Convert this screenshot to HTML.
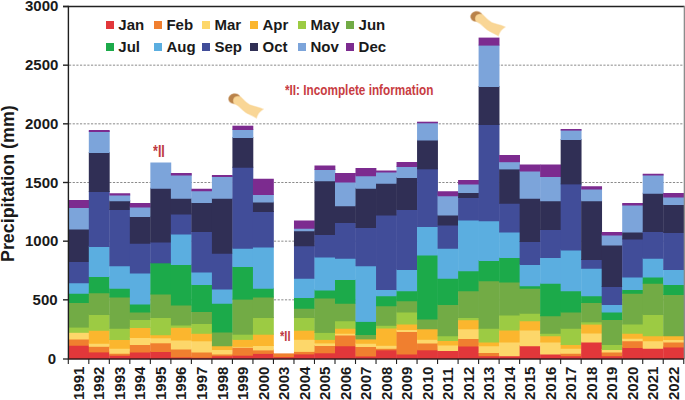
<!DOCTYPE html>
<html><head><meta charset="utf-8"><style>
html,body{margin:0;padding:0;background:#fff;}
body{width:685px;height:400px;position:relative;overflow:hidden;font-family:"Liberation Sans",sans-serif;}
svg{position:absolute;left:0;top:0;}
.yl{position:absolute;right:626.6px;font-weight:bold;font-size:15px;line-height:18px;color:#1a1a1a;text-align:right;}
.xl{position:absolute;top:400.3px;width:40px;height:20px;margin-left:-10px;transform:rotate(-90deg);transform-origin:0 0;font-weight:bold;font-size:15px;line-height:20px;color:#1a1a1a;text-align:left;white-space:nowrap;}
.sw{position:absolute;width:8.2px;height:7.8px;}
.lt{position:absolute;font-weight:bold;font-size:15px;line-height:16px;color:#1a1a1a;white-space:nowrap;}
.yt{position:absolute;font-weight:bold;font-size:17.5px;line-height:20px;color:#1a1a1a;white-space:nowrap;transform:rotate(-90deg) scaleX(1.02);transform-origin:0 0;}
.note{position:absolute;color:#C83C42;font-weight:bold;font-size:14px;line-height:16px;white-space:nowrap;transform:scaleX(0.84);transform-origin:0 0;}
#w{position:absolute;left:0;top:0;width:685px;height:400px;background:#fff;}
</style></head><body><div id="w">
<svg width="685" height="400" viewBox="0 0 685 400">
<defs><filter id="bl" x="-20%" y="-20%" width="140%" height="140%"><feGaussianBlur stdDeviation="0.8"/></filter></defs>
<line x1="69" y1="299.83" x2="683" y2="299.83" stroke="#8a8a8a" stroke-width="1" stroke-dasharray="2.2,1.46"/>
<line x1="69" y1="241.17" x2="683" y2="241.17" stroke="#8a8a8a" stroke-width="1" stroke-dasharray="2.2,1.46"/>
<line x1="69" y1="182.50" x2="683" y2="182.50" stroke="#8a8a8a" stroke-width="1" stroke-dasharray="2.2,1.46"/>
<line x1="69" y1="123.83" x2="683" y2="123.83" stroke="#8a8a8a" stroke-width="1" stroke-dasharray="2.2,1.46"/>
<line x1="69" y1="65.17" x2="683" y2="65.17" stroke="#8a8a8a" stroke-width="1" stroke-dasharray="2.2,1.46"/>
<rect x="68.30" y="344.75" width="20.87" height="14.25" fill="#E2373A"/>
<rect x="68.30" y="338.50" width="20.87" height="7.25" fill="#F07F2F"/>
<rect x="68.30" y="331.80" width="20.87" height="7.70" fill="#FDD76A"/>
<rect x="68.30" y="326.60" width="20.87" height="6.20" fill="#9CCB43"/>
<rect x="68.30" y="302.00" width="20.87" height="25.60" fill="#72AB45"/>
<rect x="68.30" y="292.75" width="20.87" height="10.25" fill="#1CAA4A"/>
<rect x="68.30" y="282.25" width="20.87" height="11.50" fill="#5BAEE0"/>
<rect x="68.30" y="261.00" width="20.87" height="22.25" fill="#414D99"/>
<rect x="68.30" y="228.50" width="20.87" height="33.50" fill="#302F55"/>
<rect x="68.30" y="207.00" width="20.87" height="22.50" fill="#7CA4DA"/>
<rect x="68.30" y="200.00" width="20.87" height="8.00" fill="#7C2B8F"/>
<rect x="88.81" y="351.40" width="20.87" height="7.60" fill="#E2373A"/>
<rect x="88.81" y="345.80" width="20.87" height="6.60" fill="#F07F2F"/>
<rect x="88.81" y="342.75" width="20.87" height="4.05" fill="#FDD76A"/>
<rect x="88.81" y="329.75" width="20.87" height="14.00" fill="#FBB62E"/>
<rect x="88.81" y="314.00" width="20.87" height="16.75" fill="#9CCB43"/>
<rect x="88.81" y="292.25" width="20.87" height="22.75" fill="#72AB45"/>
<rect x="88.81" y="276.00" width="20.87" height="17.25" fill="#1CAA4A"/>
<rect x="88.81" y="246.00" width="20.87" height="31.00" fill="#5BAEE0"/>
<rect x="88.81" y="191.00" width="20.87" height="56.00" fill="#414D99"/>
<rect x="88.81" y="152.00" width="20.87" height="40.00" fill="#302F55"/>
<rect x="88.81" y="131.00" width="20.87" height="22.00" fill="#7CA4DA"/>
<rect x="88.81" y="130.00" width="20.87" height="2.00" fill="#7C2B8F"/>
<rect x="109.33" y="354.75" width="20.87" height="4.25" fill="#E2373A"/>
<rect x="109.33" y="352.75" width="20.87" height="3.00" fill="#F07F2F"/>
<rect x="109.33" y="347.75" width="20.87" height="6.00" fill="#FDD76A"/>
<rect x="109.33" y="339.00" width="20.87" height="9.75" fill="#FBB62E"/>
<rect x="109.33" y="327.75" width="20.87" height="12.25" fill="#9CCB43"/>
<rect x="109.33" y="296.50" width="20.87" height="32.25" fill="#72AB45"/>
<rect x="109.33" y="287.75" width="20.87" height="9.75" fill="#1CAA4A"/>
<rect x="109.33" y="265.25" width="20.87" height="23.50" fill="#5BAEE0"/>
<rect x="109.33" y="209.00" width="20.87" height="57.25" fill="#414D99"/>
<rect x="109.33" y="200.25" width="20.87" height="9.75" fill="#302F55"/>
<rect x="109.33" y="194.50" width="20.87" height="6.75" fill="#7CA4DA"/>
<rect x="109.33" y="193.25" width="20.87" height="2.25" fill="#7C2B8F"/>
<rect x="129.84" y="351.50" width="20.87" height="7.50" fill="#E2373A"/>
<rect x="129.84" y="344.00" width="20.87" height="8.50" fill="#F07F2F"/>
<rect x="129.84" y="337.00" width="20.87" height="8.00" fill="#FDD76A"/>
<rect x="129.84" y="327.00" width="20.87" height="11.00" fill="#FBB62E"/>
<rect x="129.84" y="319.00" width="20.87" height="9.00" fill="#9CCB43"/>
<rect x="129.84" y="311.50" width="20.87" height="8.50" fill="#72AB45"/>
<rect x="129.84" y="303.50" width="20.87" height="9.00" fill="#1CAA4A"/>
<rect x="129.84" y="272.50" width="20.87" height="32.00" fill="#5BAEE0"/>
<rect x="129.84" y="242.75" width="20.87" height="30.75" fill="#414D99"/>
<rect x="129.84" y="216.00" width="20.87" height="27.75" fill="#302F55"/>
<rect x="129.84" y="206.50" width="20.87" height="10.50" fill="#7CA4DA"/>
<rect x="129.84" y="203.00" width="20.87" height="4.50" fill="#7C2B8F"/>
<rect x="150.36" y="351.00" width="20.87" height="8.00" fill="#E2373A"/>
<rect x="150.36" y="342.30" width="20.87" height="9.70" fill="#F07F2F"/>
<rect x="150.36" y="337.30" width="20.87" height="6.00" fill="#FDD76A"/>
<rect x="150.36" y="334.20" width="20.87" height="4.10" fill="#FBB62E"/>
<rect x="150.36" y="317.00" width="20.87" height="18.20" fill="#9CCB43"/>
<rect x="150.36" y="293.50" width="20.87" height="24.50" fill="#72AB45"/>
<rect x="150.36" y="262.30" width="20.87" height="32.20" fill="#1CAA4A"/>
<rect x="150.36" y="241.50" width="20.87" height="21.80" fill="#414D99"/>
<rect x="150.36" y="187.75" width="20.87" height="54.75" fill="#302F55"/>
<rect x="150.36" y="162.50" width="20.87" height="26.25" fill="#7CA4DA"/>
<rect x="170.88" y="356.50" width="20.87" height="2.50" fill="#E2373A"/>
<rect x="170.88" y="348.50" width="20.87" height="9.00" fill="#F07F2F"/>
<rect x="170.88" y="339.50" width="20.87" height="10.00" fill="#FDD76A"/>
<rect x="170.88" y="326.80" width="20.87" height="13.70" fill="#FBB62E"/>
<rect x="170.88" y="324.50" width="20.87" height="3.30" fill="#9CCB43"/>
<rect x="170.88" y="304.50" width="20.87" height="21.00" fill="#72AB45"/>
<rect x="170.88" y="264.00" width="20.87" height="41.50" fill="#1CAA4A"/>
<rect x="170.88" y="233.50" width="20.87" height="31.50" fill="#5BAEE0"/>
<rect x="170.88" y="213.50" width="20.87" height="21.00" fill="#414D99"/>
<rect x="170.88" y="197.75" width="20.87" height="16.75" fill="#302F55"/>
<rect x="170.88" y="174.50" width="20.87" height="24.25" fill="#7CA4DA"/>
<rect x="170.88" y="173.00" width="20.87" height="2.50" fill="#7C2B8F"/>
<rect x="191.39" y="356.80" width="20.87" height="2.20" fill="#E2373A"/>
<rect x="191.39" y="351.50" width="20.87" height="6.30" fill="#F07F2F"/>
<rect x="191.39" y="340.30" width="20.87" height="12.20" fill="#FDD76A"/>
<rect x="191.39" y="332.80" width="20.87" height="8.50" fill="#FBB62E"/>
<rect x="191.39" y="323.00" width="20.87" height="10.80" fill="#9CCB43"/>
<rect x="191.39" y="311.00" width="20.87" height="13.00" fill="#72AB45"/>
<rect x="191.39" y="284.00" width="20.87" height="28.00" fill="#1CAA4A"/>
<rect x="191.39" y="271.50" width="20.87" height="13.50" fill="#5BAEE0"/>
<rect x="191.39" y="231.00" width="20.87" height="41.50" fill="#414D99"/>
<rect x="191.39" y="202.00" width="20.87" height="30.00" fill="#302F55"/>
<rect x="191.39" y="190.25" width="20.87" height="12.75" fill="#7CA4DA"/>
<rect x="191.39" y="188.75" width="20.87" height="2.50" fill="#7C2B8F"/>
<rect x="211.91" y="355.25" width="20.87" height="3.75" fill="#E2373A"/>
<rect x="211.91" y="353.50" width="20.87" height="2.75" fill="#F07F2F"/>
<rect x="211.91" y="349.00" width="20.87" height="5.50" fill="#FDD76A"/>
<rect x="211.91" y="345.25" width="20.87" height="4.75" fill="#FBB62E"/>
<rect x="211.91" y="331.50" width="20.87" height="14.75" fill="#72AB45"/>
<rect x="211.91" y="302.75" width="20.87" height="29.75" fill="#1CAA4A"/>
<rect x="211.91" y="288.50" width="20.87" height="15.25" fill="#5BAEE0"/>
<rect x="211.91" y="252.75" width="20.87" height="36.75" fill="#414D99"/>
<rect x="211.91" y="197.75" width="20.87" height="56.00" fill="#302F55"/>
<rect x="211.91" y="176.00" width="20.87" height="22.75" fill="#7CA4DA"/>
<rect x="211.91" y="175.00" width="20.87" height="2.00" fill="#7C2B8F"/>
<rect x="232.42" y="354.70" width="20.87" height="4.30" fill="#E2373A"/>
<rect x="232.42" y="346.80" width="20.87" height="8.90" fill="#F07F2F"/>
<rect x="232.42" y="345.90" width="20.87" height="1.90" fill="#FDD76A"/>
<rect x="232.42" y="338.90" width="20.87" height="8.00" fill="#FBB62E"/>
<rect x="232.42" y="333.70" width="20.87" height="6.20" fill="#9CCB43"/>
<rect x="232.42" y="298.60" width="20.87" height="36.10" fill="#72AB45"/>
<rect x="232.42" y="266.00" width="20.87" height="33.60" fill="#1CAA4A"/>
<rect x="232.42" y="247.75" width="20.87" height="19.25" fill="#5BAEE0"/>
<rect x="232.42" y="166.75" width="20.87" height="82.00" fill="#414D99"/>
<rect x="232.42" y="137.00" width="20.87" height="30.75" fill="#302F55"/>
<rect x="232.42" y="129.00" width="20.87" height="9.00" fill="#7CA4DA"/>
<rect x="232.42" y="125.70" width="20.87" height="4.30" fill="#7C2B8F"/>
<rect x="252.94" y="352.90" width="20.87" height="6.10" fill="#E2373A"/>
<rect x="252.94" y="349.40" width="20.87" height="4.50" fill="#F07F2F"/>
<rect x="252.94" y="345.00" width="20.87" height="5.40" fill="#FDD76A"/>
<rect x="252.94" y="333.70" width="20.87" height="12.30" fill="#FBB62E"/>
<rect x="252.94" y="317.00" width="20.87" height="17.70" fill="#9CCB43"/>
<rect x="252.94" y="296.50" width="20.87" height="21.50" fill="#72AB45"/>
<rect x="252.94" y="287.75" width="20.87" height="9.75" fill="#1CAA4A"/>
<rect x="252.94" y="246.50" width="20.87" height="42.25" fill="#5BAEE0"/>
<rect x="252.94" y="211.00" width="20.87" height="36.50" fill="#414D99"/>
<rect x="252.94" y="201.50" width="20.87" height="10.50" fill="#302F55"/>
<rect x="252.94" y="194.00" width="20.87" height="8.50" fill="#7CA4DA"/>
<rect x="252.94" y="178.75" width="20.87" height="16.25" fill="#7C2B8F"/>
<rect x="273.45" y="356.20" width="20.87" height="2.80" fill="#E2373A"/>
<rect x="273.45" y="353.40" width="20.87" height="3.80" fill="#F07F2F"/>
<rect x="293.97" y="353.40" width="20.87" height="5.60" fill="#E2373A"/>
<rect x="293.97" y="350.90" width="20.87" height="3.50" fill="#F07F2F"/>
<rect x="293.97" y="338.80" width="20.87" height="13.10" fill="#FDD76A"/>
<rect x="293.97" y="329.70" width="20.87" height="10.10" fill="#FBB62E"/>
<rect x="293.97" y="317.00" width="20.87" height="13.70" fill="#9CCB43"/>
<rect x="293.97" y="307.75" width="20.87" height="10.25" fill="#72AB45"/>
<rect x="293.97" y="297.00" width="20.87" height="11.75" fill="#1CAA4A"/>
<rect x="293.97" y="277.75" width="20.87" height="20.25" fill="#5BAEE0"/>
<rect x="293.97" y="245.25" width="20.87" height="33.50" fill="#414D99"/>
<rect x="293.97" y="230.25" width="20.87" height="16.00" fill="#302F55"/>
<rect x="293.97" y="227.75" width="20.87" height="3.50" fill="#7CA4DA"/>
<rect x="293.97" y="220.50" width="20.87" height="8.25" fill="#7C2B8F"/>
<rect x="314.48" y="352.30" width="20.87" height="6.70" fill="#E2373A"/>
<rect x="314.48" y="345.00" width="20.87" height="8.30" fill="#F07F2F"/>
<rect x="314.48" y="342.40" width="20.87" height="3.60" fill="#FDD76A"/>
<rect x="314.48" y="338.90" width="20.87" height="4.50" fill="#FBB62E"/>
<rect x="314.48" y="331.90" width="20.87" height="8.00" fill="#9CCB43"/>
<rect x="314.48" y="297.50" width="20.87" height="35.40" fill="#72AB45"/>
<rect x="314.48" y="289.50" width="20.87" height="9.00" fill="#1CAA4A"/>
<rect x="314.48" y="256.50" width="20.87" height="34.00" fill="#5BAEE0"/>
<rect x="314.48" y="234.00" width="20.87" height="23.50" fill="#414D99"/>
<rect x="314.48" y="180.25" width="20.87" height="54.75" fill="#302F55"/>
<rect x="314.48" y="169.00" width="20.87" height="12.25" fill="#7CA4DA"/>
<rect x="314.48" y="165.50" width="20.87" height="4.50" fill="#7C2B8F"/>
<rect x="335.00" y="345.25" width="20.87" height="13.75" fill="#E2373A"/>
<rect x="335.00" y="334.50" width="20.87" height="11.75" fill="#F07F2F"/>
<rect x="335.00" y="332.75" width="20.87" height="2.75" fill="#FDD76A"/>
<rect x="335.00" y="327.75" width="20.87" height="6.00" fill="#FBB62E"/>
<rect x="335.00" y="320.25" width="20.87" height="8.50" fill="#9CCB43"/>
<rect x="335.00" y="302.75" width="20.87" height="18.50" fill="#72AB45"/>
<rect x="335.00" y="279.00" width="20.87" height="24.75" fill="#1CAA4A"/>
<rect x="335.00" y="257.75" width="20.87" height="22.25" fill="#5BAEE0"/>
<rect x="335.00" y="222.00" width="20.87" height="36.75" fill="#414D99"/>
<rect x="335.00" y="205.25" width="20.87" height="17.75" fill="#302F55"/>
<rect x="335.00" y="181.50" width="20.87" height="24.75" fill="#7CA4DA"/>
<rect x="335.00" y="173.00" width="20.87" height="9.50" fill="#7C2B8F"/>
<rect x="355.51" y="355.50" width="20.87" height="3.50" fill="#E2373A"/>
<rect x="355.51" y="346.00" width="20.87" height="10.50" fill="#F07F2F"/>
<rect x="355.51" y="342.75" width="20.87" height="4.25" fill="#FDD76A"/>
<rect x="355.51" y="338.40" width="20.87" height="5.35" fill="#FBB62E"/>
<rect x="355.51" y="334.00" width="20.87" height="5.40" fill="#72AB45"/>
<rect x="355.51" y="320.90" width="20.87" height="14.10" fill="#1CAA4A"/>
<rect x="355.51" y="265.25" width="20.87" height="56.65" fill="#5BAEE0"/>
<rect x="355.51" y="227.00" width="20.87" height="39.25" fill="#414D99"/>
<rect x="355.51" y="187.75" width="20.87" height="40.25" fill="#302F55"/>
<rect x="355.51" y="175.25" width="20.87" height="13.50" fill="#7CA4DA"/>
<rect x="355.51" y="168.00" width="20.87" height="8.25" fill="#7C2B8F"/>
<rect x="376.03" y="349.30" width="20.87" height="9.70" fill="#E2373A"/>
<rect x="376.03" y="347.80" width="20.87" height="2.50" fill="#F07F2F"/>
<rect x="376.03" y="344.80" width="20.87" height="4.00" fill="#FDD76A"/>
<rect x="376.03" y="327.50" width="20.87" height="18.30" fill="#FBB62E"/>
<rect x="376.03" y="324.80" width="20.87" height="3.70" fill="#9CCB43"/>
<rect x="376.03" y="305.25" width="20.87" height="20.55" fill="#72AB45"/>
<rect x="376.03" y="295.25" width="20.87" height="11.00" fill="#1CAA4A"/>
<rect x="376.03" y="289.00" width="20.87" height="7.25" fill="#5BAEE0"/>
<rect x="376.03" y="214.50" width="20.87" height="75.50" fill="#414D99"/>
<rect x="376.03" y="182.75" width="20.87" height="32.75" fill="#302F55"/>
<rect x="376.03" y="171.50" width="20.87" height="12.25" fill="#7CA4DA"/>
<rect x="376.03" y="170.50" width="20.87" height="2.00" fill="#7C2B8F"/>
<rect x="396.54" y="353.50" width="20.87" height="5.50" fill="#E2373A"/>
<rect x="396.54" y="331.00" width="20.87" height="23.50" fill="#F07F2F"/>
<rect x="396.54" y="329.00" width="20.87" height="3.00" fill="#FDD76A"/>
<rect x="396.54" y="323.50" width="20.87" height="6.50" fill="#FBB62E"/>
<rect x="396.54" y="311.50" width="20.87" height="13.00" fill="#9CCB43"/>
<rect x="396.54" y="300.25" width="20.87" height="12.25" fill="#72AB45"/>
<rect x="396.54" y="290.25" width="20.87" height="11.00" fill="#1CAA4A"/>
<rect x="396.54" y="269.00" width="20.87" height="22.25" fill="#5BAEE0"/>
<rect x="396.54" y="209.00" width="20.87" height="61.00" fill="#414D99"/>
<rect x="396.54" y="177.00" width="20.87" height="33.00" fill="#302F55"/>
<rect x="396.54" y="166.00" width="20.87" height="12.00" fill="#7CA4DA"/>
<rect x="396.54" y="162.00" width="20.87" height="5.00" fill="#7C2B8F"/>
<rect x="417.06" y="349.30" width="20.87" height="9.70" fill="#E2373A"/>
<rect x="417.06" y="342.50" width="20.87" height="7.80" fill="#F07F2F"/>
<rect x="417.06" y="338.80" width="20.87" height="4.70" fill="#FDD76A"/>
<rect x="417.06" y="328.30" width="20.87" height="11.50" fill="#FBB62E"/>
<rect x="417.06" y="318.50" width="20.87" height="10.80" fill="#72AB45"/>
<rect x="417.06" y="254.50" width="20.87" height="65.00" fill="#1CAA4A"/>
<rect x="417.06" y="226.00" width="20.87" height="29.50" fill="#5BAEE0"/>
<rect x="417.06" y="168.30" width="20.87" height="58.70" fill="#414D99"/>
<rect x="417.06" y="139.50" width="20.87" height="29.80" fill="#302F55"/>
<rect x="417.06" y="122.30" width="20.87" height="18.20" fill="#7CA4DA"/>
<rect x="417.06" y="121.70" width="20.87" height="1.60" fill="#7C2B8F"/>
<rect x="437.57" y="350.00" width="20.87" height="9.00" fill="#E2373A"/>
<rect x="437.57" y="344.50" width="20.87" height="6.50" fill="#FDD76A"/>
<rect x="437.57" y="340.00" width="20.87" height="5.50" fill="#FBB62E"/>
<rect x="437.57" y="335.25" width="20.87" height="5.75" fill="#9CCB43"/>
<rect x="437.57" y="304.00" width="20.87" height="32.25" fill="#72AB45"/>
<rect x="437.57" y="277.75" width="20.87" height="27.25" fill="#1CAA4A"/>
<rect x="437.57" y="247.75" width="20.87" height="31.00" fill="#5BAEE0"/>
<rect x="437.57" y="224.50" width="20.87" height="24.25" fill="#414D99"/>
<rect x="437.57" y="214.50" width="20.87" height="11.00" fill="#302F55"/>
<rect x="437.57" y="195.25" width="20.87" height="20.25" fill="#7CA4DA"/>
<rect x="437.57" y="191.25" width="20.87" height="5.00" fill="#7C2B8F"/>
<rect x="458.09" y="345.50" width="20.87" height="13.50" fill="#E2373A"/>
<rect x="458.09" y="338.00" width="20.87" height="8.50" fill="#F07F2F"/>
<rect x="458.09" y="328.30" width="20.87" height="10.70" fill="#FDD76A"/>
<rect x="458.09" y="319.20" width="20.87" height="10.10" fill="#FBB62E"/>
<rect x="458.09" y="317.00" width="20.87" height="3.20" fill="#9CCB43"/>
<rect x="458.09" y="290.25" width="20.87" height="27.75" fill="#72AB45"/>
<rect x="458.09" y="270.25" width="20.87" height="21.00" fill="#1CAA4A"/>
<rect x="458.09" y="219.50" width="20.87" height="51.75" fill="#5BAEE0"/>
<rect x="458.09" y="197.00" width="20.87" height="23.50" fill="#414D99"/>
<rect x="458.09" y="192.00" width="20.87" height="6.00" fill="#302F55"/>
<rect x="458.09" y="183.50" width="20.87" height="9.50" fill="#7CA4DA"/>
<rect x="458.09" y="180.00" width="20.87" height="4.50" fill="#7C2B8F"/>
<rect x="478.60" y="355.25" width="20.87" height="3.75" fill="#E2373A"/>
<rect x="478.60" y="352.00" width="20.87" height="4.25" fill="#F07F2F"/>
<rect x="478.60" y="345.25" width="20.87" height="7.75" fill="#FDD76A"/>
<rect x="478.60" y="341.50" width="20.87" height="4.75" fill="#FBB62E"/>
<rect x="478.60" y="327.75" width="20.87" height="14.75" fill="#9CCB43"/>
<rect x="478.60" y="280.25" width="20.87" height="48.50" fill="#72AB45"/>
<rect x="478.60" y="260.00" width="20.87" height="21.25" fill="#1CAA4A"/>
<rect x="478.60" y="220.25" width="20.87" height="40.75" fill="#5BAEE0"/>
<rect x="478.60" y="124.00" width="20.87" height="97.25" fill="#414D99"/>
<rect x="478.60" y="86.00" width="20.87" height="39.00" fill="#302F55"/>
<rect x="478.60" y="44.60" width="20.87" height="42.40" fill="#7CA4DA"/>
<rect x="478.60" y="37.60" width="20.87" height="8.00" fill="#7C2B8F"/>
<rect x="499.12" y="355.25" width="20.87" height="3.75" fill="#E2373A"/>
<rect x="499.12" y="341.50" width="20.87" height="14.75" fill="#FDD76A"/>
<rect x="499.12" y="329.50" width="20.87" height="13.00" fill="#FBB62E"/>
<rect x="499.12" y="314.50" width="20.87" height="16.00" fill="#9CCB43"/>
<rect x="499.12" y="281.50" width="20.87" height="34.00" fill="#72AB45"/>
<rect x="499.12" y="257.00" width="20.87" height="25.50" fill="#1CAA4A"/>
<rect x="499.12" y="231.50" width="20.87" height="26.50" fill="#5BAEE0"/>
<rect x="499.12" y="202.75" width="20.87" height="29.75" fill="#414D99"/>
<rect x="499.12" y="168.40" width="20.87" height="35.35" fill="#302F55"/>
<rect x="499.12" y="161.20" width="20.87" height="8.20" fill="#7CA4DA"/>
<rect x="499.12" y="155.00" width="20.87" height="7.20" fill="#7C2B8F"/>
<rect x="519.63" y="345.25" width="20.87" height="13.75" fill="#E2373A"/>
<rect x="519.63" y="329.50" width="20.87" height="16.75" fill="#FDD76A"/>
<rect x="519.63" y="320.25" width="20.87" height="10.25" fill="#FBB62E"/>
<rect x="519.63" y="312.75" width="20.87" height="8.50" fill="#9CCB43"/>
<rect x="519.63" y="287.75" width="20.87" height="26.00" fill="#72AB45"/>
<rect x="519.63" y="285.25" width="20.87" height="3.50" fill="#1CAA4A"/>
<rect x="519.63" y="264.00" width="20.87" height="22.25" fill="#5BAEE0"/>
<rect x="519.63" y="241.00" width="20.87" height="24.00" fill="#414D99"/>
<rect x="519.63" y="197.75" width="20.87" height="44.25" fill="#302F55"/>
<rect x="519.63" y="170.50" width="20.87" height="28.25" fill="#7CA4DA"/>
<rect x="519.63" y="164.50" width="20.87" height="7.00" fill="#7C2B8F"/>
<rect x="540.14" y="353.50" width="20.87" height="5.50" fill="#E2373A"/>
<rect x="540.14" y="341.50" width="20.87" height="13.00" fill="#FDD76A"/>
<rect x="540.14" y="335.25" width="20.87" height="7.25" fill="#FBB62E"/>
<rect x="540.14" y="332.75" width="20.87" height="3.50" fill="#9CCB43"/>
<rect x="540.14" y="315.25" width="20.87" height="18.50" fill="#72AB45"/>
<rect x="540.14" y="282.75" width="20.87" height="33.50" fill="#1CAA4A"/>
<rect x="540.14" y="257.00" width="20.87" height="26.75" fill="#5BAEE0"/>
<rect x="540.14" y="229.00" width="20.87" height="29.00" fill="#414D99"/>
<rect x="540.14" y="200.25" width="20.87" height="29.75" fill="#302F55"/>
<rect x="540.14" y="176.00" width="20.87" height="25.25" fill="#7CA4DA"/>
<rect x="540.14" y="164.50" width="20.87" height="12.50" fill="#7C2B8F"/>
<rect x="560.66" y="355.25" width="20.87" height="3.75" fill="#E2373A"/>
<rect x="560.66" y="352.75" width="20.87" height="3.50" fill="#F07F2F"/>
<rect x="560.66" y="347.75" width="20.87" height="6.00" fill="#FDD76A"/>
<rect x="560.66" y="344.00" width="20.87" height="4.75" fill="#FBB62E"/>
<rect x="560.66" y="327.75" width="20.87" height="17.25" fill="#9CCB43"/>
<rect x="560.66" y="311.50" width="20.87" height="17.25" fill="#72AB45"/>
<rect x="560.66" y="290.25" width="20.87" height="22.25" fill="#1CAA4A"/>
<rect x="560.66" y="249.50" width="20.87" height="41.75" fill="#5BAEE0"/>
<rect x="560.66" y="183.40" width="20.87" height="67.10" fill="#414D99"/>
<rect x="560.66" y="139.00" width="20.87" height="45.40" fill="#302F55"/>
<rect x="560.66" y="129.60" width="20.87" height="10.40" fill="#7CA4DA"/>
<rect x="560.66" y="129.00" width="20.87" height="1.60" fill="#7C2B8F"/>
<rect x="581.17" y="341.50" width="20.87" height="17.50" fill="#E2373A"/>
<rect x="581.17" y="332.50" width="20.87" height="10.00" fill="#FDD76A"/>
<rect x="581.17" y="323.60" width="20.87" height="9.90" fill="#FBB62E"/>
<rect x="581.17" y="321.30" width="20.87" height="3.30" fill="#9CCB43"/>
<rect x="581.17" y="302.00" width="20.87" height="20.30" fill="#72AB45"/>
<rect x="581.17" y="295.25" width="20.87" height="7.75" fill="#1CAA4A"/>
<rect x="581.17" y="267.75" width="20.87" height="28.50" fill="#5BAEE0"/>
<rect x="581.17" y="259.00" width="20.87" height="9.75" fill="#414D99"/>
<rect x="581.17" y="200.25" width="20.87" height="59.75" fill="#302F55"/>
<rect x="581.17" y="188.50" width="20.87" height="12.75" fill="#7CA4DA"/>
<rect x="581.17" y="186.25" width="20.87" height="3.25" fill="#7C2B8F"/>
<rect x="601.69" y="355.25" width="20.87" height="3.75" fill="#E2373A"/>
<rect x="601.69" y="351.50" width="20.87" height="4.75" fill="#F07F2F"/>
<rect x="601.69" y="349.00" width="20.87" height="3.50" fill="#FDD76A"/>
<rect x="601.69" y="344.00" width="20.87" height="6.00" fill="#9CCB43"/>
<rect x="601.69" y="319.00" width="20.87" height="26.00" fill="#72AB45"/>
<rect x="601.69" y="311.50" width="20.87" height="8.50" fill="#1CAA4A"/>
<rect x="601.69" y="304.00" width="20.87" height="8.50" fill="#5BAEE0"/>
<rect x="601.69" y="286.00" width="20.87" height="19.00" fill="#414D99"/>
<rect x="601.69" y="244.50" width="20.87" height="42.50" fill="#302F55"/>
<rect x="601.69" y="234.50" width="20.87" height="11.00" fill="#7CA4DA"/>
<rect x="601.69" y="232.00" width="20.87" height="3.50" fill="#7C2B8F"/>
<rect x="622.20" y="347.00" width="20.87" height="12.00" fill="#E2373A"/>
<rect x="622.20" y="340.25" width="20.87" height="7.75" fill="#F07F2F"/>
<rect x="622.20" y="337.75" width="20.87" height="3.50" fill="#FDD76A"/>
<rect x="622.20" y="332.75" width="20.87" height="6.00" fill="#FBB62E"/>
<rect x="622.20" y="323.50" width="20.87" height="10.25" fill="#9CCB43"/>
<rect x="622.20" y="292.75" width="20.87" height="31.75" fill="#72AB45"/>
<rect x="622.20" y="289.00" width="20.87" height="4.75" fill="#1CAA4A"/>
<rect x="622.20" y="276.50" width="20.87" height="13.50" fill="#5BAEE0"/>
<rect x="622.20" y="238.50" width="20.87" height="39.00" fill="#414D99"/>
<rect x="622.20" y="231.50" width="20.87" height="8.00" fill="#302F55"/>
<rect x="622.20" y="204.50" width="20.87" height="28.00" fill="#7CA4DA"/>
<rect x="622.20" y="203.00" width="20.87" height="2.50" fill="#7C2B8F"/>
<rect x="642.72" y="347.75" width="20.87" height="11.25" fill="#E2373A"/>
<rect x="642.72" y="340.25" width="20.87" height="8.50" fill="#FDD76A"/>
<rect x="642.72" y="335.25" width="20.87" height="6.00" fill="#FBB62E"/>
<rect x="642.72" y="314.00" width="20.87" height="22.25" fill="#9CCB43"/>
<rect x="642.72" y="282.75" width="20.87" height="32.25" fill="#72AB45"/>
<rect x="642.72" y="276.50" width="20.87" height="7.25" fill="#1CAA4A"/>
<rect x="642.72" y="257.75" width="20.87" height="19.75" fill="#5BAEE0"/>
<rect x="642.72" y="231.00" width="20.87" height="27.75" fill="#414D99"/>
<rect x="642.72" y="192.75" width="20.87" height="39.25" fill="#302F55"/>
<rect x="642.72" y="174.50" width="20.87" height="19.25" fill="#7CA4DA"/>
<rect x="642.72" y="173.75" width="20.87" height="1.75" fill="#7C2B8F"/>
<rect x="663.24" y="346.50" width="20.87" height="12.50" fill="#E2373A"/>
<rect x="663.24" y="341.50" width="20.87" height="6.00" fill="#F07F2F"/>
<rect x="663.24" y="339.00" width="20.87" height="3.50" fill="#FDD76A"/>
<rect x="663.24" y="335.25" width="20.87" height="4.75" fill="#FBB62E"/>
<rect x="663.24" y="294.00" width="20.87" height="42.25" fill="#72AB45"/>
<rect x="663.24" y="284.00" width="20.87" height="11.00" fill="#1CAA4A"/>
<rect x="663.24" y="269.00" width="20.87" height="16.00" fill="#5BAEE0"/>
<rect x="663.24" y="232.00" width="20.87" height="38.00" fill="#414D99"/>
<rect x="663.24" y="204.00" width="20.87" height="29.00" fill="#302F55"/>
<rect x="663.24" y="196.50" width="20.87" height="8.50" fill="#7CA4DA"/>
<rect x="663.24" y="193.00" width="20.87" height="4.50" fill="#7C2B8F"/>
<line x1="63" y1="6.5" x2="684" y2="6.5" stroke="#222" stroke-width="1.5"/>
<line x1="684.4" y1="5.8" x2="684.4" y2="359" stroke="#8c8c8c" stroke-width="1.4"/>
<line x1="68.4" y1="5.8" x2="68.4" y2="359.6" stroke="#1e1e1e" stroke-width="1.4"/>
<line x1="68.4" y1="359" x2="684" y2="359" stroke="#3a1a1c" stroke-width="1.3"/>
<line x1="63" y1="359" x2="68.4" y2="359" stroke="#222" stroke-width="1.3"/>
<line x1="63" y1="299.83" x2="68" y2="299.83" stroke="#222" stroke-width="1.4"/>
<line x1="63" y1="241.17" x2="68" y2="241.17" stroke="#222" stroke-width="1.4"/>
<line x1="63" y1="182.50" x2="68" y2="182.50" stroke="#222" stroke-width="1.4"/>
<line x1="63" y1="123.83" x2="68" y2="123.83" stroke="#222" stroke-width="1.4"/>
<line x1="63" y1="65.17" x2="68" y2="65.17" stroke="#222" stroke-width="1.4"/>
<line x1="63" y1="6.50" x2="68" y2="6.50" stroke="#222" stroke-width="1.4"/>
<line x1="68.30" y1="359" x2="68.30" y2="364" stroke="#222" stroke-width="1.1"/>
<line x1="88.81" y1="359" x2="88.81" y2="364" stroke="#222" stroke-width="1.1"/>
<line x1="109.33" y1="359" x2="109.33" y2="364" stroke="#222" stroke-width="1.1"/>
<line x1="129.84" y1="359" x2="129.84" y2="364" stroke="#222" stroke-width="1.1"/>
<line x1="150.36" y1="359" x2="150.36" y2="364" stroke="#222" stroke-width="1.1"/>
<line x1="170.88" y1="359" x2="170.88" y2="364" stroke="#222" stroke-width="1.1"/>
<line x1="191.39" y1="359" x2="191.39" y2="364" stroke="#222" stroke-width="1.1"/>
<line x1="211.91" y1="359" x2="211.91" y2="364" stroke="#222" stroke-width="1.1"/>
<line x1="232.42" y1="359" x2="232.42" y2="364" stroke="#222" stroke-width="1.1"/>
<line x1="252.94" y1="359" x2="252.94" y2="364" stroke="#222" stroke-width="1.1"/>
<line x1="273.45" y1="359" x2="273.45" y2="364" stroke="#222" stroke-width="1.1"/>
<line x1="293.97" y1="359" x2="293.97" y2="364" stroke="#222" stroke-width="1.1"/>
<line x1="314.48" y1="359" x2="314.48" y2="364" stroke="#222" stroke-width="1.1"/>
<line x1="335.00" y1="359" x2="335.00" y2="364" stroke="#222" stroke-width="1.1"/>
<line x1="355.51" y1="359" x2="355.51" y2="364" stroke="#222" stroke-width="1.1"/>
<line x1="376.03" y1="359" x2="376.03" y2="364" stroke="#222" stroke-width="1.1"/>
<line x1="396.54" y1="359" x2="396.54" y2="364" stroke="#222" stroke-width="1.1"/>
<line x1="417.06" y1="359" x2="417.06" y2="364" stroke="#222" stroke-width="1.1"/>
<line x1="437.57" y1="359" x2="437.57" y2="364" stroke="#222" stroke-width="1.1"/>
<line x1="458.09" y1="359" x2="458.09" y2="364" stroke="#222" stroke-width="1.1"/>
<line x1="478.60" y1="359" x2="478.60" y2="364" stroke="#222" stroke-width="1.1"/>
<line x1="499.12" y1="359" x2="499.12" y2="364" stroke="#222" stroke-width="1.1"/>
<line x1="519.63" y1="359" x2="519.63" y2="364" stroke="#222" stroke-width="1.1"/>
<line x1="540.14" y1="359" x2="540.14" y2="364" stroke="#222" stroke-width="1.1"/>
<line x1="560.66" y1="359" x2="560.66" y2="364" stroke="#222" stroke-width="1.1"/>
<line x1="581.17" y1="359" x2="581.17" y2="364" stroke="#222" stroke-width="1.1"/>
<line x1="601.69" y1="359" x2="601.69" y2="364" stroke="#222" stroke-width="1.1"/>
<line x1="622.20" y1="359" x2="622.20" y2="364" stroke="#222" stroke-width="1.1"/>
<line x1="642.72" y1="359" x2="642.72" y2="364" stroke="#222" stroke-width="1.1"/>
<line x1="663.24" y1="359" x2="663.24" y2="364" stroke="#222" stroke-width="1.1"/>
<line x1="683.75" y1="359" x2="683.75" y2="364" stroke="#222" stroke-width="1.1"/>
<g transform="translate(0,0)"><g>
<ellipse cx="234.4" cy="98.6" rx="5.8" ry="4.9" transform="rotate(-12 234.4 98.6)" fill="#B98249" stroke="#C99A68" stroke-opacity="0.45" stroke-width="1.3"/>
<path d="M233.4,100.8 C233.5,98.3 235.2,96.7 237.3,96.5 C238.8,96.3 240.2,96.6 241.2,97.5 C243.4,99.8 246,102.6 249.5,104.8 C253,106.4 258,106.9 263,109.2 C261,110.6 259.2,112 258.2,113.8 C257.3,115.2 256.8,116.6 256.4,118 C254.6,117 252.4,115.6 250,114.6 C246.6,113.2 243.6,110.8 241,108.2 C239,106.2 236.6,104.6 235,104 C234,103.4 233.4,102.2 233.4,100.8 Z" fill="#F9D696" stroke="#F9D696" stroke-opacity="0.5" stroke-width="1.3"/>
</g></g>
<g transform="translate(242,-82.2)"><g>
<ellipse cx="234.4" cy="98.6" rx="5.8" ry="4.9" transform="rotate(-12 234.4 98.6)" fill="#B98249" stroke="#C99A68" stroke-opacity="0.45" stroke-width="1.3"/>
<path d="M233.4,100.8 C233.5,98.3 235.2,96.7 237.3,96.5 C238.8,96.3 240.2,96.6 241.2,97.5 C243.4,99.8 246,102.6 249.5,104.8 C253,106.4 258,106.9 263,109.2 C261,110.6 259.2,112 258.2,113.8 C257.3,115.2 256.8,116.6 256.4,118 C254.6,117 252.4,115.6 250,114.6 C246.6,113.2 243.6,110.8 241,108.2 C239,106.2 236.6,104.6 235,104 C234,103.4 233.4,102.2 233.4,100.8 Z" fill="#F9D696" stroke="#F9D696" stroke-opacity="0.5" stroke-width="1.3"/>
</g></g>
</svg>
<div class="yl" style="top:349.6px;right:628.9px">0</div><div class="yl" style="top:290.9px;right:627.4px">500</div><div class="yl" style="top:232.3px;right:626.6px">1000</div><div class="yl" style="top:173.6px;right:626.6px">1500</div><div class="yl" style="top:114.9px;right:626.6px">2000</div><div class="yl" style="top:56.3px;right:626.6px">2500</div><div class="yl" style="top:-3.4px;right:626.6px">3000</div>
<div class="yt" style="left:-1.7px;top:262px">Precipitation (mm)</div>
<div class="sw" style="left:106.0px;top:21.2px;background:#E2373A"></div><div class="lt" style="left:118.3px;top:16.7px">Jan</div><div class="sw" style="left:154.1px;top:21.2px;background:#F07F2F"></div><div class="lt" style="left:166.4px;top:16.7px">Feb</div><div class="sw" style="left:202.1px;top:21.2px;background:#FDD76A"></div><div class="lt" style="left:214.4px;top:16.7px">Mar</div><div class="sw" style="left:250.2px;top:21.2px;background:#FBB62E"></div><div class="lt" style="left:262.5px;top:16.7px">Apr</div><div class="sw" style="left:298.2px;top:21.2px;background:#9CCB43"></div><div class="lt" style="left:310.5px;top:16.7px">May</div><div class="sw" style="left:346.3px;top:21.2px;background:#72AB45"></div><div class="lt" style="left:358.6px;top:16.7px">Jun</div><div class="sw" style="left:106.0px;top:43.0px;background:#1CAA4A"></div><div class="lt" style="left:118.3px;top:38.5px">Jul</div><div class="sw" style="left:154.1px;top:43.0px;background:#5BAEE0"></div><div class="lt" style="left:166.4px;top:38.5px">Aug</div><div class="sw" style="left:202.1px;top:43.0px;background:#414D99"></div><div class="lt" style="left:214.4px;top:38.5px">Sep</div><div class="sw" style="left:250.2px;top:43.0px;background:#302F55"></div><div class="lt" style="left:262.5px;top:38.5px">Oct</div><div class="sw" style="left:298.2px;top:43.0px;background:#7CA4DA"></div><div class="lt" style="left:310.5px;top:38.5px">Nov</div><div class="sw" style="left:346.3px;top:43.0px;background:#7C2B8F"></div><div class="lt" style="left:358.6px;top:38.5px">Dec</div>
<div class="note" style="left:284.5px;top:82px">*II: Incomplete information</div>
<div class="note" style="left:153px;top:141.6px;font-size:16.5px;line-height:18px;transform:scaleX(0.76);color:#BE3A42">*II</div>
<div class="note" style="left:279.8px;top:327.8px;font-size:14px;transform:scaleX(0.8);color:#BE3A42">*II</div>
<div class="xl" style="left:78.91px">1991</div><div class="xl" style="left:99.42px">1992</div><div class="xl" style="left:119.94px">1993</div><div class="xl" style="left:140.45px">1994</div><div class="xl" style="left:160.97px">1995</div><div class="xl" style="left:181.48px">1996</div><div class="xl" style="left:202.00px">1997</div><div class="xl" style="left:222.51px">1998</div><div class="xl" style="left:243.03px">1999</div><div class="xl" style="left:263.54px">2000</div><div class="xl" style="left:284.06px">2003</div><div class="xl" style="left:304.57px">2004</div><div class="xl" style="left:325.09px">2005</div><div class="xl" style="left:345.60px">2006</div><div class="xl" style="left:366.12px">2007</div><div class="xl" style="left:386.63px">2008</div><div class="xl" style="left:407.15px">2009</div><div class="xl" style="left:427.66px">2010</div><div class="xl" style="left:448.18px">2011</div><div class="xl" style="left:468.69px">2012</div><div class="xl" style="left:489.21px">2013</div><div class="xl" style="left:509.72px">2014</div><div class="xl" style="left:530.24px">2015</div><div class="xl" style="left:550.75px">2016</div><div class="xl" style="left:571.27px">2017</div><div class="xl" style="left:591.78px">2018</div><div class="xl" style="left:612.30px">2019</div><div class="xl" style="left:632.81px">2020</div><div class="xl" style="left:653.33px">2021</div><div class="xl" style="left:673.84px">2022</div>
</div></body></html>
